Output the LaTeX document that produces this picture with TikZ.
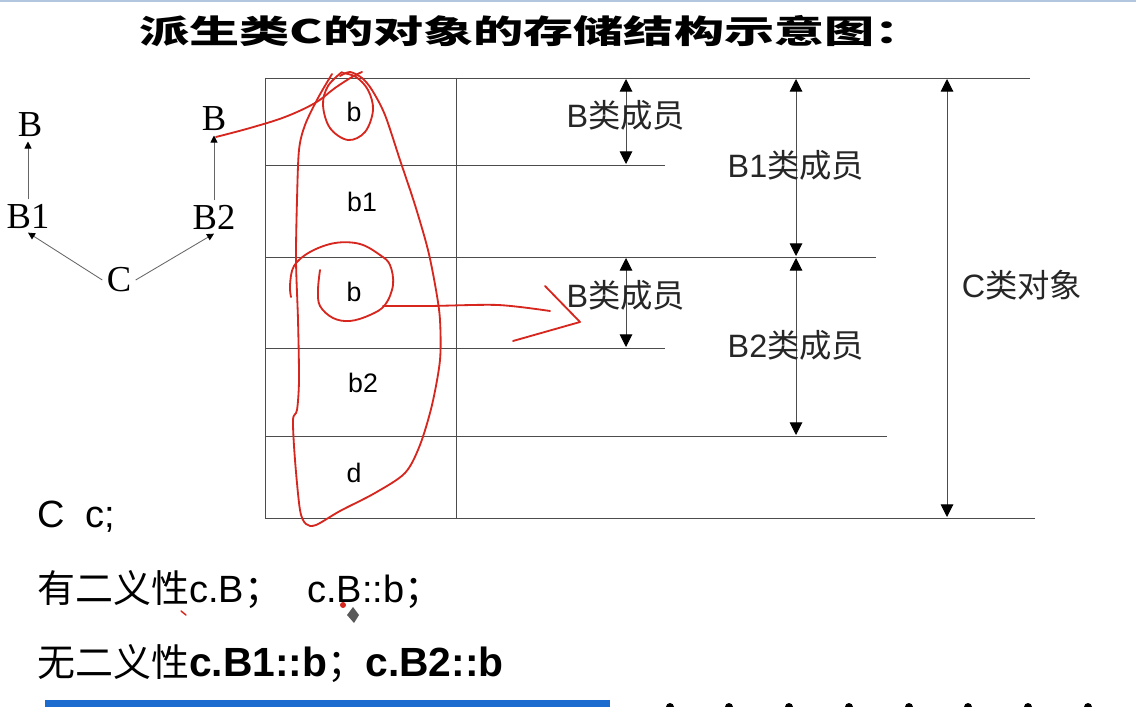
\documentclass[tikz,border=0pt]{standalone}
\usepackage{fontspec}
\setmainfont{Liberation Serif}
\newfontfamily\arial{Liberation Sans}
\newfontfamily\cjk{Noto Sans CJK SC}
\usetikzlibrary{arrows.meta}
\definecolor{inkred}{RGB}{214,38,30}
\definecolor{barblue}{RGB}{28,108,208}
\definecolor{topblue}{RGB}{178,198,224}
\newcommand{\boldcode}[1]{{\arial\bfseries\fontsize{29}{29}\selectfont #1}}
\begin{document}
\begin{tikzpicture}[x=0.025cm, y=-0.025cm]
\tikzstyle{cls}=[inner sep=3pt, font=\fontsize{26}{26}\selectfont]
\tikzstyle{inh}=[gray!80!black, line width=0.6pt, -{Triangle[black, length=5pt, width=5pt]}]
\tikzstyle{grid}=[gray!60!black, line width=0.7pt]
\tikzstyle{dim}=[gray!60!black, line width=0.7pt, {Triangle[black, length=9pt, width=9pt]}-{Triangle[black, length=9pt, width=9pt]}]
\tikzstyle{cell}=[inner sep=0pt, font=\arial\fontsize{19}{19}\selectfont]
\tikzstyle{lbl}=[inner sep=0pt, font=\fontsize{23}{23}\selectfont, text=black!85]
\tikzstyle{txt}=[inner sep=0pt, anchor=west, font=\fontsize{27}{27}\selectfont]
\tikzstyle{ink}=[inkred, line width=1.3pt, line cap=round, line join=round]
\useasboundingbox (0,0) rectangle (1136,707);
\fill[white] (0,0) rectangle (1136,707);
\fill[topblue] (0,0) rectangle (1136,2);
% title
\node[inner sep=0pt, font=\cjk\bfseries\fontsize{23}{23}\selectfont] (title) at (532,31) {\scalebox{1.55}[1]{派生类C的对象的存储结构示意图：}};
% class hierarchy
\node[cls] (Bl) at (30,125) {B};
\node[cls] (B1) at (28,216) {B1};
\node[cls] (C) at (119,280) {C};
\node[cls] (Br) at (214,119) {B};
\node[cls] (B2) at (214,217) {B2};
\draw[inh] (B1.north) -- (B1.north |- Bl.south);
\draw[inh] (B2.north -| Br.south) -- (Br.south);
\draw[inh] (C.west) -- (B1.south);
\draw[inh] (C.east) -- (B2.south);
% storage table
\foreach \y/\r in {78/1030,165/665,257/876,348/665,436/887,518/1035}{\draw[grid] (265,\y) -- (\r,\y);}
\foreach \x in {265,456}{\draw[grid] (\x,78) -- (\x,518);}
\foreach \t/\x/\y in {b/354/112, b1/362/202, b/354/292, b2/363/383, d/354/473}{\node[cell] at (\x,\y) {\t};}
\draw[dim] (626,79) -- (626,164);
\draw[dim] (626,258) -- (626,347);
\draw[dim] (796,79) -- (796,256);
\draw[dim] (796,258) -- (796,435);
\draw[dim] (947,79) -- (947,517);
\node[lbl] (mB1) at (626,115) {\arial B\cjk 类成员};
\node[lbl] (mB1a) at (796,165) {\arial B1\cjk 类成员};
\node[lbl] (mB2) at (626,295) {\arial B\cjk 类成员};
\node[lbl] (mB2a) at (796,345) {\arial B2\cjk 类成员};
\node[lbl] (mC) at (1022,285) {\arial C\cjk 类对象};
% code lines
\node[txt] (decl) at (37,517) {\arial C\ \ c;};
\node[txt] (amb) at (37,590) {\cjk 有二义性\arial c.B\cjk ；\hspace{18pt}\arial c.B::b\cjk ；};
\node[txt] (nonamb) at (37,664) {\cjk 无二义性\boldcode{c.B1::b}\cjk ；\boldcode{c.B2::b}};
% hand-drawn ink
\draw[ink] plot[smooth, tension=0.6] coordinates {(216,137) (250,128) (285,117) (315,103) (335,88) (352,77) (362,72)};
\draw[ink] plot[smooth, tension=0.6] coordinates {(342,72) (328,86) (323,105) (330,128) (348,140) (365,132) (373,110) (368,90) (356,77) (343,73)};
\draw[ink] plot[smooth, tension=0.5] coordinates {(332,74) (318,98) (305,125) (299,150) (297,200) (296,260) (298,320) (299,380) (297,410) (293,420) (295,460) (300,510) (306,524) (316,525) (340,511) (375,493) (405,473) (420,445) (432,405) (440,360) (440,320) (436,290) (428,250) (415,205) (400,160) (385,115) (372,90) (362,78) (350,72) (340,76)};
\draw[ink] plot[smooth, tension=0.6] coordinates {(320,270) (318,290) (320,306) (333,318) (350,321) (370,315) (385,305) (393,285) (390,265) (380,255) (360,244) (335,243) (310,252) (294,266) (290,285) (291,297)};
\draw[ink] plot[smooth, tension=0.5] coordinates {(383,306) (430,306) (498,305) (550,311)};
\draw[ink] (545,286) -- (580,322) -- (513,341);
\draw[ink, line width=1pt] (181,611) -- (186,615);
\fill[gray!70!black] (353,607) -- (359,615) -- (354,623) -- (347,615) -- cycle;
\fill[inkred] (343,605) circle (3);
% bottom band
\fill[barblue] (45,700) rectangle (610,707);
\foreach \x in {670,729,789,849,909,968,1028,1088}{\fill[black] (\x-4,707) arc[start angle=180, end angle=360, radius=4];}
\end{tikzpicture}
\end{document}
